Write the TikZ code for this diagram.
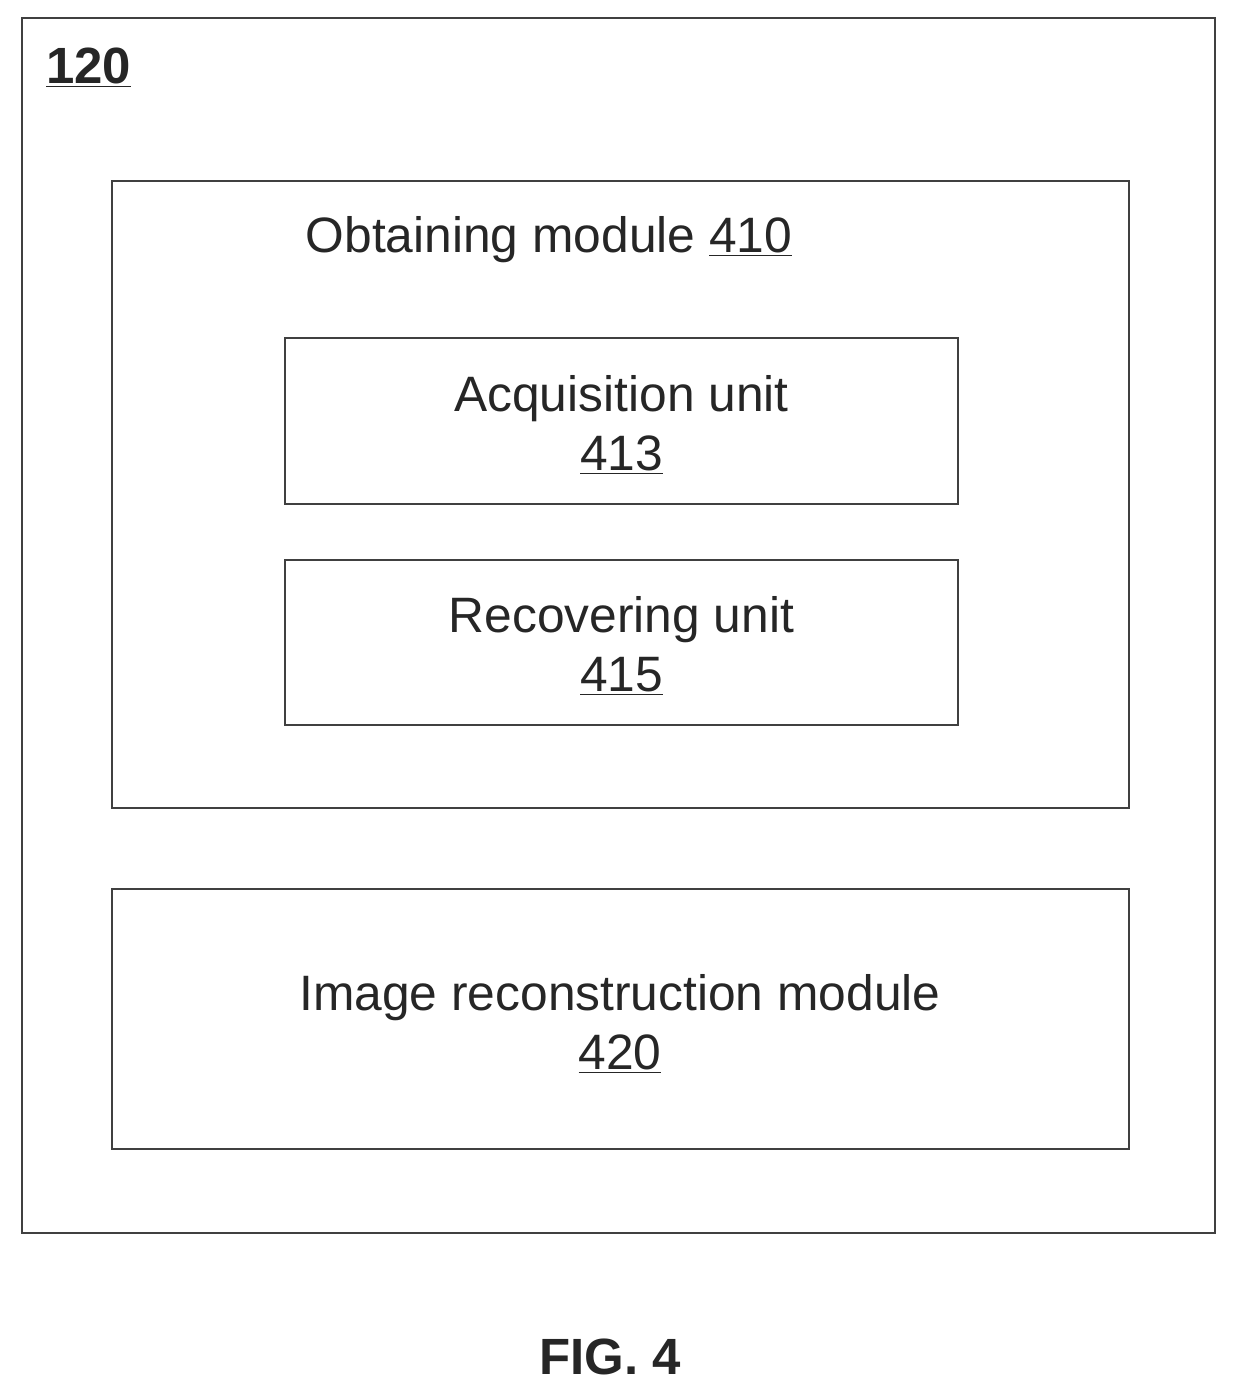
\documentclass[tikz,border=0pt]{standalone}
\usepackage{fontspec}
\setmainfont{Liberation Sans}
\usetikzlibrary{positioning}
\begin{document}
\begin{tikzpicture}[x=0.02cm,y=-0.02cm,
  box/.style={rectangle,draw=black!75,line width=1.6pt,inner sep=0pt},
  lbl/.style={font=\fontsize{28.3}{34}\selectfont,align=center,text=black!85}]
\useasboundingbox (0,0) rectangle (1237,1393);

% Boxes
\node[box,minimum width=1193*0.02cm,minimum height=1215*0.02cm] (sys) at (618.5,625.5) {};
\node[box,minimum width=1017*0.02cm,minimum height=627*0.02cm] (obtain) at (620.5,494.5) {};
\node[box,minimum width=673*0.02cm,minimum height=166*0.02cm] (acq) at (621.5,421) {};
\node[box,minimum width=673*0.02cm,minimum height=165*0.02cm] (rec) at (621.5,642.5) {};
\node[box,minimum width=1017*0.02cm,minimum height=260*0.02cm] (recon) at (620.5,1019) {};

% Labels
\node[lbl,font=\fontsize{29}{34}\selectfont\bfseries,anchor=west] (num) at (40,68) {\underline{120}};
\node[lbl] (obtaintext) at (549,240) {Obtaining module \underline{410}};
\node[lbl] (acqtext) at (621.5,425) {Acquisition unit\\\underline{413}};
\node[lbl] (rectext) at (621.5,646) {Recovering unit\\\underline{415}};
\node[lbl] (recontext) at (620,1024) {Image reconstruction module\\\underline{420}};
\node[lbl,font=\fontsize{29}{34}\selectfont\bfseries] (fig) at (610,1357) {FIG. 4};
\end{tikzpicture}
\end{document}
